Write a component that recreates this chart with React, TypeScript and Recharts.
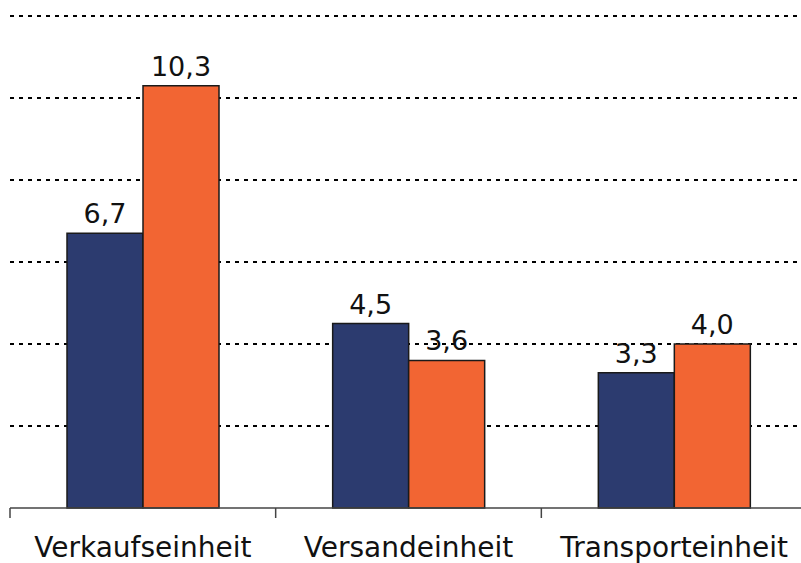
import { BarChart, Bar, XAxis, YAxis, CartesianGrid, LabelList } from 'recharts'

const einheiten = ['Verkaufseinheit', 'Versandeinheit', 'Transporteinheit']
const serieA = [6.7, 4.5, 3.3]
const serieB = [10.3, 3.6, 4.0]
const yTicks = [0, 2, 4, 6, 8, 10, 12]

const data = einheiten.map((name, i) => ({ name, a: serieA[i], b: serieB[i] }))

const FONT = '"DejaVu Sans", Verdana, sans-serif'

function formatKomma(value: number) {
  return value.toFixed(1).replace('.', ',')
}

function CategoryTick({
  x,
  y,
  payload,
  index,
}: {
  x?: number
  y?: number
  payload?: { value: string; offset?: number }
  index?: number
}) {
  const half = payload?.offset ?? 0
  const axisY = (y ?? 0) - 29
  return (
    <g>
      {index === 0 && (
        <line x1={(x ?? 0) - half} x2={(x ?? 0) - half} y1={axisY} y2={axisY + 10} stroke="#444" strokeWidth={1.5} />
      )}
      <line x1={(x ?? 0) + half} x2={(x ?? 0) + half} y1={axisY} y2={axisY + 10} stroke="#444" strokeWidth={1.5} />
      <text x={x} y={y} dy="0.71em" textAnchor="middle" fontSize={28} fill="#111" fontFamily={FONT}>
        {payload?.value}
      </text>
    </g>
  )
}

export default function App() {
  return (
    <div style={{ position: 'absolute', left: 0, top: 0, width: 801, height: 563, overflow: 'hidden', background: '#fff' }}>
      <BarChart
        width={807}
        height={563}
        data={data}
        margin={{ top: 16, right: 0, left: 10, bottom: 0 }}
        barGap={0}
        barSize={76}
      >
        <CartesianGrid
          horizontal
          vertical={false}
          strokeDasharray="4 5"
          stroke="#000"
          strokeWidth={2}
          horizontalValues={yTicks.slice(1)}
        />
        <XAxis
          dataKey="name"
          height={55}
          tickLine={false}
          tickSize={10}
          tickMargin={19}
          axisLine={{ stroke: '#444', strokeWidth: 1.5 }}
          tick={<CategoryTick />}
          interval={0}
        />
        <YAxis hide domain={[0, 12]} ticks={yTicks} />
        <Bar dataKey="a" fill="#2C3B6F" stroke="#1a1a1a" strokeWidth={1.5} isAnimationActive={false}>
          <LabelList dataKey="a" position="top" offset={10} formatter={formatKomma} fontSize={27} fill="#111" fontFamily={FONT} />
        </Bar>
        <Bar dataKey="b" fill="#F26533" stroke="#1a1a1a" strokeWidth={1.5} isAnimationActive={false}>
          <LabelList dataKey="b" position="top" offset={10} formatter={formatKomma} fontSize={27} fill="#111" fontFamily={FONT} />
        </Bar>
      </BarChart>
    </div>
  )
}
